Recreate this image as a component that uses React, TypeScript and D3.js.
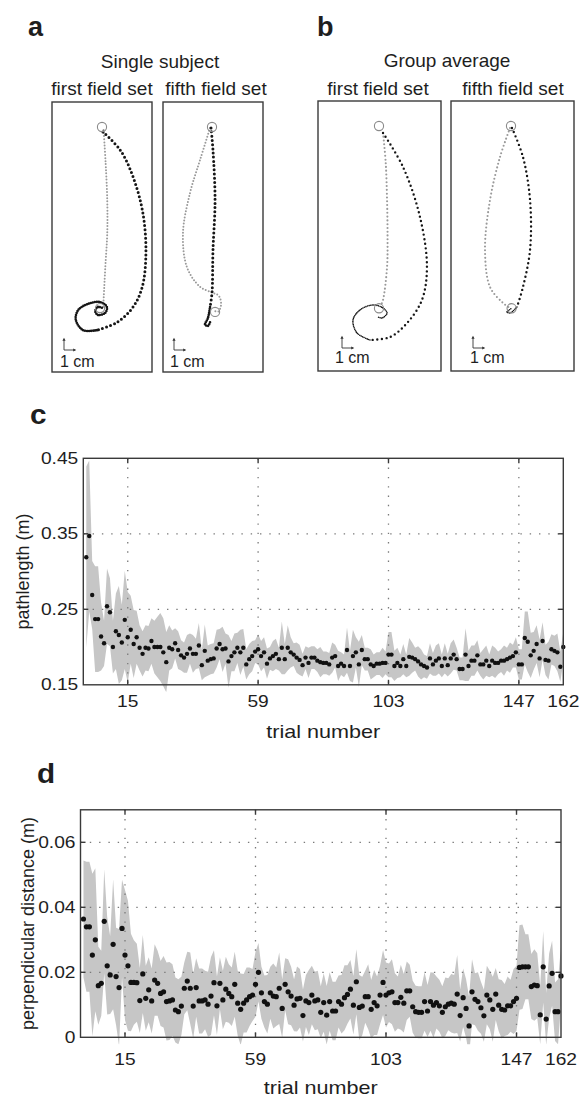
import React from "react";
import * as d3 from "d3";

// ---- panel a/b: hand trajectories, in cm (x right, y down from the start circle)
const a1Gray = [[0.13, 0.25], [0.3, 3], [0.43, 6], [0.43, 8.7], [0.27, 11.5], [0.1, 14.75]];
const a1BlackReach = [[0.08, 0.4], [1.5, 1.9], [2.55, 4.1], [3.35, 7.05], [3.6, 10.3], [3.3, 13.1], [2.55, 14.75], [1.25, 16], [-0.4, 16.65]];
const a1BlackHold = [[-0.4, 16.65], [-1.55, 16.65], [-2.15, 15.8], [-1.95, 15], [-1.15, 14.5], [-0.15, 14.35], [0.4, 14.75], [0.25, 15.25], [-0.35, 15.4], [-0.55, 15.1], [-0.35, 14.75], [0.08, 14.85]];
const a1Target = [-0.16, 14.84];

const a2Gray = [[-0.16, 0.08], [-0.98, 2.7], [-1.8, 5.4], [-2.38, 8.7], [-2.05, 11.5], [-0.98, 13.1], [0.08, 13.6], [0.57, 13.85], [0.74, 14.6], [0.5, 15.15], [0.25, 15.1]];
const a2BlackReach = [[-0.08, 0.08], [0.08, 1.9], [0.25, 6], [0.08, 10.1], [0, 13.6], [-0.16, 14.75]];
const a2BlackHold = [[-0.16, 14.75], [-0.33, 15.65], [-0.57, 16.2], [-0.33, 16.3], [-0.16, 16]];
const a2Target = [0.25, 15.16];

const b1Gray = [[0.33, 0.57], [0.55, 3], [0.66, 6.07], [0.7, 9], [0.66, 11.56], [0.33, 14.26], [0.16, 14.7]];
const b1BlackReach = [[0.33, 0.57], [1.97, 3.36], [3.36, 7.46], [3.93, 11.56], [3.52, 14.26], [2.3, 16.15], [0.9, 17.3], [-0.74, 17.54]];
const b1BlackHold = [[-0.74, 17.54], [-1.8, 16.97], [-2.13, 15.9], [-1.56, 15.08], [-0.49, 14.67], [0.33, 14.92], [0.66, 15.33], [0.25, 15.74], [-0.08, 15.66]];
const b1Target = [0, 14.94];

const b2Gray = [[-0.08, 0.16], [-0.9, 2.54], [-1.72, 6.07], [-2.13, 10.16], [-1.72, 13.2], [-0.66, 14.5], [-0.08, 14.92]];
const b2BlackReach = [[0.08, 0.16], [0.98, 2.54], [1.56, 6.07], [1.56, 10.16], [0.98, 13.2], [0.49, 14.84]];
const b2BlackHold = [[0.49, 14.84], [-0.08, 15.33], [-0.33, 15.25], [0.08, 14.92]];
const b2Target = [0.05, 14.94];

// ---- panel c: pathlength (m), trials 1..162
const pathMean = [
  0.319, 0.347, 0.269, 0.237, 0.237, 0.214, 0.205, 0.254, 0.246, 0.2,
  0.221, 0.216, 0.206, 0.236, 0.213, 0.223, 0.204, 0.213, 0.199, 0.191,
  0.199, 0.198, 0.208, 0.2, 0.2, 0.2, 0.193, 0.18, 0.199, 0.197,
  0.205, 0.196, 0.189, 0.186, 0.191, 0.198, 0.191, 0.191, 0.202, 0.176,
  0.195, 0.182, 0.184, 0.185, 0.198, 0.204, 0.197, 0.198, 0.181, 0.188,
  0.193, 0.199, 0.193, 0.199, 0.177, 0.184, 0.188, 0.194, 0.197, 0.188,
  0.193, 0.178, 0.185, 0.188, 0.191, 0.184, 0.199, 0.184, 0.199, 0.193,
  0.19, 0.186, 0.183, 0.176, 0.186, 0.179, 0.186, 0.186, 0.182, 0.18,
  0.179, 0.179, 0.177, 0.186, 0.188, 0.175, 0.178, 0.175, 0.196, 0.175,
  0.188, 0.193, 0.177, 0.196, 0.184, 0.184, 0.177, 0.175, 0.178, 0.178,
  0.179, 0.179, 0.19, 0.19, 0.175, 0.179, 0.175, 0.184, 0.175, 0.187,
  0.186, 0.184, 0.181, 0.177, 0.175, 0.173, 0.185, 0.177, 0.182, 0.185,
  0.175, 0.185, 0.176, 0.185, 0.19, 0.184, 0.171, 0.171, 0.19, 0.175,
  0.182, 0.182, 0.189, 0.177, 0.177, 0.182, 0.175, 0.182, 0.179, 0.179,
  0.182, 0.182, 0.184, 0.186, 0.188, 0.193, 0.177, 0.177, 0.212, 0.207,
  0.189, 0.195, 0.204, 0.185, 0.208, 0.183, 0.182, 0.197, 0.195, 0.193,
  0.174, 0.2,
];
const pathSd = [
  0.12, 0.1, 0.045, 0.07, 0.07, 0.045, 0.03, 0.05, 0.045, 0.035,
  0.05, 0.065, 0.05, 0.065, 0.06, 0.045, 0.045, 0.035, 0.03, 0.03,
  0.03, 0.03, 0.03, 0.035, 0.04, 0.045, 0.045, 0.04, 0.03, 0.025,
  0.02, 0.025, 0.02, 0.02, 0.025, 0.02, 0.025, 0.02, 0.03, 0.02,
  0.035, 0.02, 0.02, 0.02, 0.025, 0.02, 0.03, 0.02, 0.035, 0.02,
  0.025, 0.02, 0.03, 0.025, 0.02, 0.02, 0.02, 0.015, 0.02, 0.02,
  0.02, 0.02, 0.015, 0.02, 0.02, 0.015, 0.035, 0.02, 0.03, 0.02,
  0.015, 0.02, 0.02, 0.015, 0.015, 0.02, 0.015, 0.015, 0.015, 0.02,
  0.015, 0.015, 0.015, 0.02, 0.015, 0.02, 0.015, 0.015, 0.03, 0.02,
  0.035, 0.02, 0.03, 0.02, 0.015, 0.015, 0.02, 0.015, 0.015, 0.015,
  0.02, 0.015, 0.03, 0.03, 0.02, 0.02, 0.015, 0.02, 0.015, 0.025,
  0.02, 0.015, 0.02, 0.02, 0.015, 0.015, 0.02, 0.015, 0.02, 0.02,
  0.015, 0.02, 0.015, 0.02, 0.02, 0.015, 0.015, 0.015, 0.035, 0.02,
  0.02, 0.02, 0.02, 0.015, 0.02, 0.02, 0.015, 0.02, 0.02, 0.015,
  0.015, 0.02, 0.015, 0.02, 0.015, 0.02, 0.02, 0.02, 0.035, 0.04,
  0.03, 0.025, 0.025, 0.025, 0.025, 0.02, 0.025, 0.02, 0.02, 0.025,
  0.02, 0.02,
];
const pathTicks = [0.15, 0.25, 0.35, 0.45];

// ---- panel d: perpendicular distance (m)
const perpMean = [
  0.0364, 0.034, 0.034, 0.0253, 0.03, 0.0159, 0.0166, 0.0357, 0.022, 0.0192,
  0.0286, 0.0187, 0.0153, 0.0335, 0.0253, 0.022, 0.0169, 0.0169, 0.0168, 0.0113,
  0.0195, 0.012, 0.0146, 0.0112, 0.0176, 0.0166, 0.0135, 0.014, 0.011, 0.0112,
  0.0115, 0.0084, 0.0079, 0.0096, 0.0151, 0.0173, 0.0151, 0.0096, 0.0153, 0.0112,
  0.0112, 0.0115, 0.0102, 0.0127, 0.0168, 0.0097, 0.0166, 0.0115, 0.0148, 0.0135,
  0.0125, 0.0163, 0.0105, 0.0086, 0.0105, 0.0115, 0.0125, 0.013, 0.0163, 0.02,
  0.0137, 0.011, 0.0102, 0.0137, 0.0127, 0.0125, 0.0151, 0.0089, 0.0163, 0.014,
  0.0127, 0.0099, 0.0118, 0.012, 0.0067, 0.0112, 0.0107, 0.013, 0.0112, 0.0115,
  0.0077, 0.0107, 0.0068, 0.011, 0.0081, 0.0081, 0.011, 0.0102, 0.0122, 0.0132,
  0.0148, 0.0099, 0.0171, 0.0092, 0.0096, 0.0125, 0.0125, 0.0086, 0.0107, 0.0097,
  0.013, 0.0169, 0.013, 0.0137, 0.014, 0.0107, 0.0107, 0.0123, 0.0105, 0.0143,
  0.0143, 0.0094, 0.0079, 0.0077, 0.0077, 0.011, 0.0081, 0.011, 0.0099, 0.0107,
  0.0097, 0.0077, 0.0094, 0.0102, 0.0105, 0.0102, 0.0133, 0.0067, 0.0122, 0.0089,
  0.0035, 0.014, 0.0117, 0.011, 0.0091, 0.0066, 0.013, 0.0115, 0.0086, 0.0133,
  0.0099, 0.0086, 0.0084, 0.0097, 0.0097, 0.011, 0.012, 0.0215, 0.0217, 0.0217,
  0.0217, 0.0156, 0.0161, 0.0159, 0.0069, 0.0217, 0.0056, 0.0158, 0.0197, 0.0079,
  0.0079, 0.0189,
];
const perpSd = [
  0.018, 0.02, 0.02, 0.025, 0.022, 0.012, 0.01, 0.016, 0.015, 0.012,
  0.02, 0.015, 0.018, 0.015, 0.02, 0.02, 0.015, 0.013, 0.012, 0.01,
  0.012, 0.01, 0.01, 0.01, 0.011, 0.01, 0.01, 0.011, 0.012, 0.012,
  0.011, 0.01, 0.01, 0.009, 0.008, 0.009, 0.011, 0.01, 0.009, 0.01,
  0.01, 0.009, 0.01, 0.012, 0.01, 0.009, 0.008, 0.009, 0.01, 0.009,
  0.009, 0.01, 0.01, 0.011, 0.009, 0.01, 0.009, 0.008, 0.01, 0.009,
  0.008, 0.008, 0.009, 0.008, 0.01, 0.009, 0.011, 0.009, 0.008, 0.01,
  0.009, 0.008, 0.01, 0.009, 0.008, 0.008, 0.01, 0.009, 0.009, 0.009,
  0.008, 0.009, 0.009, 0.009, 0.009, 0.009, 0.008, 0.009, 0.01, 0.009,
  0.009, 0.009, 0.01, 0.01, 0.009, 0.008, 0.01, 0.009, 0.01, 0.009,
  0.009, 0.01, 0.01, 0.009, 0.01, 0.009, 0.008, 0.01, 0.009, 0.009,
  0.008, 0.008, 0.008, 0.008, 0.008, 0.009, 0.008, 0.009, 0.01, 0.008,
  0.008, 0.008, 0.009, 0.008, 0.009, 0.009, 0.012, 0.008, 0.009, 0.009,
  0.009, 0.01, 0.008, 0.009, 0.008, 0.008, 0.009, 0.009, 0.01, 0.008,
  0.008, 0.009, 0.008, 0.009, 0.008, 0.01, 0.01, 0.013, 0.013, 0.01,
  0.01, 0.01, 0.011, 0.01, 0.009, 0.011, 0.008, 0.01, 0.01, 0.009,
  0.01, 0.009,
];
const perpTicks = [0, 0.02, 0.04, 0.06];

const trialTicks = [15, 59, 103, 147, 162];

const FONT = "'Liberation Sans', Arial, Helvetica, sans-serif";
const INK = "#1e1e1e";
const PX_PER_CM = 12.2;

type Pt = number[];

function SText({ x, y, size, anchor = "start", sx = 1, weight = "normal", children }: any) {
  return (
    <text
      transform={`translate(${x},${y}) scale(${sx},1)`}
      fontFamily={FONT}
      fontSize={size}
      fontWeight={weight}
      textAnchor={anchor}
      fill={INK}
    >
      {children}
    </text>
  );
}

function TrajBox({ left, width, top, bottom, sx0, sy0, gray, reach, hold, target, big, barDx, barY, textDx, textY }: any) {
  const x = d3.scaleLinear().domain([0, 1]).range([sx0, sx0 + PX_PER_CM]);
  const y = d3.scaleLinear().domain([0, 1]).range([sy0, sy0 + PX_PER_CM]);
  const line = d3.line<Pt>().x((d) => x(d[0])).y((d) => y(d[1])).curve(d3.curveCatmullRom);
  const bx = left + barDx;
  const len = x(1) - x(0);
  return (
    <g>
      <rect x={left} y={top} width={width} height={bottom - top} fill="none" stroke="#3a3a3a" strokeWidth={1.4} />
      <path d={line(gray) || ""} fill="none" stroke="#9a9a9a" strokeWidth={big ? 2 : 2.1}
        strokeLinecap="round" strokeDasharray={big ? "0 3.1" : "0 3.8"} />
      <path d={line(reach) || ""} fill="none" stroke="#161616" strokeWidth={big ? 3 : 2.4}
        strokeLinecap="round" strokeDasharray={big ? "0 4.2" : "0 4.6"} />
      <path d={line(hold) || ""} fill="none" stroke="#161616" strokeWidth={big ? 2.6 : 1.6}
        strokeLinecap="round" strokeDasharray={big ? "0 2" : "0 1.6"} />
      <circle cx={x(0)} cy={y(0)} r={4.6} fill="none" stroke="#8a8a8a" strokeWidth={1.1} />
      <circle cx={x(target[0])} cy={y(target[1])} r={4.6} fill="none" stroke="#8a8a8a" strokeWidth={1.1} />
      {/* 1 cm scale arrows */}
      <g stroke="#333" strokeWidth={0.9} fill="none">
        <line x1={bx} y1={barY} x2={bx} y2={barY - len + 2} />
        <line x1={bx} y1={barY} x2={bx + len - 1} y2={barY} />
      </g>
      <path d={`M${bx - 1.6},${barY - len + 3} L${bx},${barY - len} L${bx + 1.6},${barY - len + 3}Z`} fill="#333" />
      <path d={`M${bx + len - 3},${barY - 1.6} L${bx + len},${barY} L${bx + len - 3},${barY + 1.6}Z`} fill="#333" />
      <SText x={left + textDx} y={textY} size={16}>1 cm</SText>
    </g>
  );
}

function TimePanel({ id, mean, sd, domain, ticks, fmt, l, r, t, b, r0, letter, letterX, letterY, ylabel, ylabelX, tickBase, xlabelBase }: any) {
  const x = d3.scaleLinear().domain([0, 162]).range([l, r]);
  const y = d3.scaleLinear().domain(domain).range([b, t]);
  const band = d3.area<number>()
    .x((_, i) => x(i + 1))
    .y0((v, i) => y(v - sd[i]))
    .y1((v, i) => y(v + sd[i]));
  const grid = "1.4 7.9";
  return (
    <g>
      <defs>
        <clipPath id={id}>
          <rect x={l} y={t} width={r - l} height={b - t + 7} />
        </clipPath>
      </defs>
      <path d={band(mean) || ""} fill="#c6c6c6" clipPath={`url(#${id})`} />
      {trialTicks.filter((v) => v < 162).map((v) => (
        <line key={"gx" + v} x1={x(v)} x2={x(v)} y1={t} y2={b} stroke="#7a7a7a" strokeWidth={1.3} strokeDasharray={grid} />
      ))}
      {ticks.filter((v: number) => v > domain[0] && v < domain[1]).map((v: number) => (
        <line key={"gy" + v} x1={l} x2={r} y1={y(v)} y2={y(v)} stroke="#7a7a7a" strokeWidth={1.3} strokeDasharray={grid} />
      ))}
      {mean.map((v: number, i: number) => (
        <circle key={i} cx={x(i + 1)} cy={y(v)} r={r0} fill="#111" />
      ))}
      <rect x={l} y={t} width={r - l} height={b - t} fill="none" stroke="#3a3a3a" strokeWidth={1.4} />
      {trialTicks.filter((v) => v < 162).map((v) => (
        <g key={"tx" + v} stroke="#3a3a3a" strokeWidth={1.4}>
          <line x1={x(v)} x2={x(v)} y1={b} y2={b - 5} />
          <line x1={x(v)} x2={x(v)} y1={t} y2={t + 5} />
        </g>
      ))}
      {ticks.filter((v: number) => v > domain[0] && v < domain[1]).map((v: number) => (
        <g key={"ty" + v} stroke="#3a3a3a" strokeWidth={1.4}>
          <line x1={l} x2={l + 5} y1={y(v)} y2={y(v)} />
          <line x1={r} x2={r - 5} y1={y(v)} y2={y(v)} />
        </g>
      ))}
      {ticks.map((v: number) => (
        <SText key={"ly" + v} x={l - 5} y={y(v) + 5.6} size={16} anchor="end" sx={1.2}>{fmt(v)}</SText>
      ))}
      {trialTicks.map((v) => (
        <SText key={"lx" + v} x={x(v)} y={tickBase} size={16} anchor="middle" sx={1.2}>{v}</SText>
      ))}
      <SText x={(l + r) / 2} y={xlabelBase} size={18} anchor="middle" sx={1.2}>trial number</SText>
      <text
        transform={`translate(${ylabelX},${(t + b) / 2}) rotate(-90)`}
        fontFamily={FONT}
        fontSize={18}
        textAnchor="middle"
        dominantBaseline="central"
        fill={INK}
      >
        {ylabel}
      </text>
      <SText x={letterX} y={letterY} size={27} weight="bold" sx={1.1}>{letter}</SText>
    </g>
  );
}

export default function App() {
  const fmt2 = (v: number) => d3.format(".2f")(v);
  const fmtPerp = (v: number) => (v === 0 ? "0" : d3.format(".2f")(v));
  return (
    <svg width={587} height={1099} style={{ position: "absolute", left: 0, top: 0, background: "#fff" }}>
      <rect width={587} height={1099} fill="#fff" />
      {/* a */}
      <SText x={28} y={36} size={27} weight="bold">a</SText>
      <SText x={160} y={68} size={19} anchor="middle">Single subject</SText>
      <SText x={102} y={95} size={19} anchor="middle">first field set</SText>
      <SText x={216} y={95} size={19} anchor="middle">fifth field set</SText>
      <TrajBox left={52} width={100} top={102} bottom={372} sx0={102} sy0={127}
        gray={a1Gray} reach={a1BlackReach} hold={a1BlackHold} target={a1Target} big
        barDx={12} barY={350} textDx={8} textY={367} />
      <TrajBox left={163} width={100} top={102} bottom={372} sx0={212} sy0={127}
        gray={a2Gray} reach={a2BlackReach} hold={a2BlackHold} target={a2Target} big
        barDx={11} barY={350} textDx={7} textY={367} />
      {/* b */}
      <SText x={317} y={36} size={27} weight="bold">b</SText>
      <SText x={447} y={67} size={19} anchor="middle">Group average</SText>
      <SText x={378} y={95} size={19} anchor="middle">first field set</SText>
      <SText x={513} y={95} size={19} anchor="middle">fifth field set</SText>
      <TrajBox left={318} width={123} top={101} bottom={371} sx0={379} sy0={126}
        gray={b1Gray} reach={b1BlackReach} hold={b1BlackHold} target={b1Target}
        barDx={24} barY={348} textDx={17} textY={363} />
      <TrajBox left={451} width={123} top={101} bottom={371} sx0={511} sy0={126}
        gray={b2Gray} reach={b2BlackReach} hold={b2BlackHold} target={b2Target}
        barDx={22} barY={348} textDx={19} textY={363} />
      {/* c */}
      <TimePanel id="clipC" mean={pathMean} sd={pathSd} domain={[0.15, 0.45]} ticks={pathTicks} fmt={fmt2}
        l={83.3} r={563.3} t={458.3} b={684.8} r0={2.2}
        letter="c" letterX={30} letterY={424} ylabel="pathlength (m)" ylabelX={22.5}
        tickBase={707} xlabelBase={738} />
      {/* d */}
      <TimePanel id="clipD" mean={perpMean} sd={perpSd} domain={[0, 0.07]} ticks={perpTicks} fmt={fmtPerp}
        l={80.5} r={561} t={809.8} b={1037.3} r0={2.6}
        letter="d" letterX={37} letterY={783} ylabel="perpendicular distance (m)" ylabelX={28}
        tickBase={1065} xlabelBase={1094} />
    </svg>
  );
}
